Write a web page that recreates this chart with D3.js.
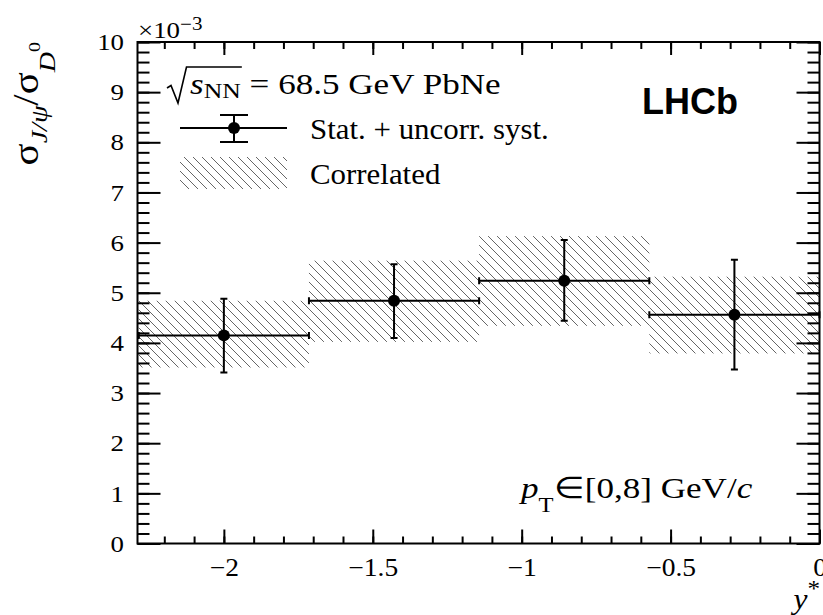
<!DOCTYPE html>
<html><head><meta charset="utf-8">
<script src="https://cdn.jsdelivr.net/npm/d3@7"></script>
<style>body{margin:0;background:#fff}svg{display:block}</style></head>
<body><svg id="c" width="823" height="615"></svg>
<script>
// ---- data ----
const binLow   = [-2.2857, -1.7143, -1.1429, -0.5714];
const binHigh  = [-1.7143, -1.1429, -0.5714, 0.0];
const yStar    = [-2.0, -1.4286, -0.8571, -0.2857];
const ratio    = [0.00415, 0.00484, 0.00524, 0.00456];
const errLow   = [0.00074, 0.00074, 0.00080, 0.00109];
const errHigh  = [0.00073, 0.00073, 0.00081, 0.00110];
const corrLow  = [0.00351, 0.00402, 0.00434, 0.00379];
const corrHigh = [0.00484, 0.00564, 0.00613, 0.00532];
const xMajorTicks = [-2, -1.5, -1, -0.5, 0];
const xTickLabels = ["−2", "−1.5", "−1", "−0.5", "0"];
const yMajorTicks = [0, 0.001, 0.002, 0.003, 0.004, 0.005, 0.006, 0.007, 0.008, 0.009, 0.010];
const yTickLabels = ["0", "1", "2", "3", "4", "5", "6", "7", "8", "9", "10"];

const rows = yStar.map((c, i) => ({c, lo: binLow[i], hi: binHigh[i], v: ratio[i],
  eL: errLow[i], eH: errHigh[i], cL: corrLow[i], cH: corrHigh[i]}));

const L = 137.5, R = 819.5, T = 42, B = 543.5;
const SERIF = '"Liberation Serif"';
const SX = 1.17; // horizontal stretch of the latex-style texts
const svg = d3.select("#c");
const x = d3.scaleLinear().domain([-2.29, 0]).range([L, R]);
const y = d3.scaleLinear().domain([0, 0.010]).range([B, T]);

function serifText(sel, size, px, py, sx) {
  return sel.append("text").style("font-family", SERIF).style("font-size", size + "px").attr("fill", "#000")
    .attr("transform", `translate(${px},${py}) scale(${sx},1)`);
}

// hatch pattern
const defs = svg.append("defs");
const pat = defs.append("pattern").attr("id", "hatch").attr("patternUnits", "userSpaceOnUse")
  .attr("width", 9).attr("height", 9);
pat.append("path").attr("d", "M-1,-1 L10,10 M-10,-1 L1,10 M8,-1 L19,10")
  .attr("stroke", "#666").attr("stroke-width", 1).attr("fill", "none");

// correlated bands
svg.append("g").selectAll("rect").data(rows).join("rect")
  .attr("x", d => x(d.lo)).attr("width", d => x(d.hi) - x(d.lo))
  .attr("y", d => y(d.cH)).attr("height", d => y(d.cL) - y(d.cH))
  .attr("fill", "url(#hatch)");

// axes
const fmtY = (d) => yTickLabels[yMajorTicks.findIndex(t => Math.abs(t - d) < 1e-9)];
const fmtX = (d) => xTickLabels[xMajorTicks.findIndex(t => Math.abs(t - d) < 1e-9)];
const yMinor = d3.range(0, 0.0101, 0.0002);
const xMinor = d3.range(-2.2, 0.001, 0.1);

function style(g, font, sx) {
  g.select(".domain").remove();
  g.selectAll(".tick line").attr("stroke", "#000").attr("stroke-width", 2);
  g.selectAll("text").each(function() {
    const t = d3.select(this);
    const tx = +t.attr("x") || 0, ty = +t.attr("y") || 0;
    t.attr("x", 0).attr("y", 0).attr("transform", `translate(${tx},${ty}) scale(${sx},1)`)
      .style("font-family", SERIF).style("font-size", font + "px").attr("fill", "#000");
  });
}
svg.append("g").attr("transform", `translate(${L},0)`)
  .call(d3.axisLeft(y).tickValues(yMinor).tickSizeInner(-12).tickSizeOuter(0).tickFormat(""))
  .call(g => style(g, 0, 1));
svg.append("g").attr("transform", `translate(${L},0)`)
  .call(d3.axisLeft(y).tickValues(yMajorTicks).tickSizeInner(-23).tickSizeOuter(0).tickPadding(13.5).tickFormat(fmtY))
  .call(g => style(g, 24, 1.12));
svg.append("g").attr("transform", `translate(${R},0)`)
  .call(d3.axisRight(y).tickValues(yMinor).tickSizeInner(-12).tickSizeOuter(0).tickFormat(""))
  .call(g => style(g, 0, 1));
svg.append("g").attr("transform", `translate(${R},0)`)
  .call(d3.axisRight(y).tickValues(yMajorTicks).tickSizeInner(-23).tickSizeOuter(0).tickFormat(""))
  .call(g => style(g, 0, 1));
svg.append("g").attr("transform", `translate(0,${B})`)
  .call(d3.axisBottom(x).tickValues(xMinor).tickSizeInner(-7).tickSizeOuter(0).tickFormat(""))
  .call(g => style(g, 0, 1));
svg.append("g").attr("transform", `translate(0,${B})`)
  .call(d3.axisBottom(x).tickValues(xMajorTicks).tickSizeInner(-14).tickSizeOuter(0).tickPadding(15).tickFormat(fmtX))
  .call(g => style(g, 25, 1.1));
svg.append("g").attr("transform", `translate(0,${T})`)
  .call(d3.axisTop(x).tickValues(xMinor).tickSizeInner(-7).tickSizeOuter(0).tickFormat(""))
  .call(g => style(g, 0, 1));
svg.append("g").attr("transform", `translate(0,${T})`)
  .call(d3.axisTop(x).tickValues(xMajorTicks).tickSizeInner(-13).tickSizeOuter(0).tickFormat(""))
  .call(g => style(g, 0, 1));

// frame
svg.append("rect").attr("x", L).attr("y", T).attr("width", R - L).attr("height", B - T)
  .attr("fill", "none").attr("stroke", "#000").attr("stroke-width", 2);

// error bars
const eb = svg.append("g").attr("stroke", "#000").attr("stroke-width", 2).attr("fill", "none");
const cap = 3.5;
eb.selectAll("path.h").data(rows).join("path").attr("class", "h")
  .attr("d", d => `M${x(d.lo)},${y(d.v)}H${x(d.hi)}M${x(d.lo)},${y(d.v)-cap}V${y(d.v)+cap}M${x(d.hi)},${y(d.v)-cap}V${y(d.v)+cap}`);
eb.selectAll("path.v").data(rows).join("path").attr("class", "v")
  .attr("d", d => `M${x(d.c)},${y(d.v + d.eH)}V${y(d.v - d.eL)}M${x(d.c)-cap},${y(d.v + d.eH)}H${x(d.c)+cap}M${x(d.c)-cap},${y(d.v - d.eL)}H${x(d.c)+cap}`);
svg.append("g").selectAll("circle").data(rows).join("circle")
  .attr("cx", d => x(d.c)).attr("cy", d => y(d.v)).attr("r", 6).attr("fill", "#000");

// exponent label
const ex = serifText(svg, 23, 138, 38, SX);
ex.append("tspan").text("×10");
ex.append("tspan").style("font-size", "18px").attr("dy", -8).text("−3");

// y title
const yt = svg.append("text").style("font-family", SERIF).style("font-size", "35px")
  .attr("transform", `translate(38,42) rotate(-90) scale(${SX},1)`).attr("text-anchor", "end");
yt.append("tspan").text("σ");
yt.append("tspan").style("font-size", "24px").style("font-style", "italic").attr("dy", 9).text("J/ψ");
yt.append("tspan").attr("dy", -9).text("/σ");
yt.append("tspan").style("font-size", "24px").style("font-style", "italic").attr("dy", 17).text("D");
yt.append("tspan").style("font-size", "17px").attr("dy", -15).text("0");

// x title
const xt = serifText(svg, 30, 820, 609, 1.05).attr("text-anchor", "end");
xt.append("tspan").style("font-style", "italic").text("y");
xt.append("tspan").style("font-size", "24px").attr("dy", -13).text("*");

// legend header: sqrt(s_NN) = 68.5 GeV PbNe
const hx = 190, hy = 94;
const hd = serifText(svg, 30, hx, hy, SX);
hd.append("tspan").style("font-style", "italic").text("s");
hd.append("tspan").style("font-size", "22px").attr("dy", 4).text("NN");
hd.append("tspan").attr("dy", -4).text(" = 68.5 GeV PbNe");
const ovEnd = hx + SX * hd.node().getSubStringLength(0, 3) + 1;
svg.append("path").attr("d", `M167,88 L171,85.5 L178,103 L186.5,67 H${ovEnd}`)
  .attr("stroke", "#000").attr("stroke-width", 1.6).attr("fill", "none").attr("stroke-linejoin", "miter");

// legend entries
const lx0 = 180, lx1 = 287, lxc = 234;
const ly1 = 128;
svg.append("path").attr("d", `M${lx0},${ly1}H${lx1}M${lxc},${ly1-13}V${ly1+14}M${lxc-14},${ly1-13}H${lxc+14}M${lxc-14},${ly1+14}H${lxc+14}`)
  .attr("stroke", "#000").attr("stroke-width", 2).attr("fill", "none");
svg.append("circle").attr("cx", lxc).attr("cy", ly1).attr("r", 6).attr("fill", "#000");
serifText(svg, 30, 310, 139, 1.03).text("Stat. + uncorr. syst.");
svg.append("rect").attr("x", lx0).attr("y", 157).attr("width", lx1 - lx0).attr("height", 32).attr("fill", "url(#hatch)");
serifText(svg, 30, 310, 184, 1.03).text("Correlated");

// LHCb
svg.append("text").style("font-family", '"Liberation Sans"').attr("x", 642).attr("y", 114)
  .style("font-weight", "bold").style("font-size", "36px").text("LHCb");

// pT label
const pt = serifText(svg, 30, 521, 498, SX);
pt.append("tspan").style("font-style", "italic").text("p");
pt.append("tspan").style("font-size", "21px").attr("dy", 14).text("T");
pt.append("tspan").attr("dy", -14).text("∈[0,8] GeV/");
pt.append("tspan").style("font-style", "italic").text("c");
</script></body></html>
